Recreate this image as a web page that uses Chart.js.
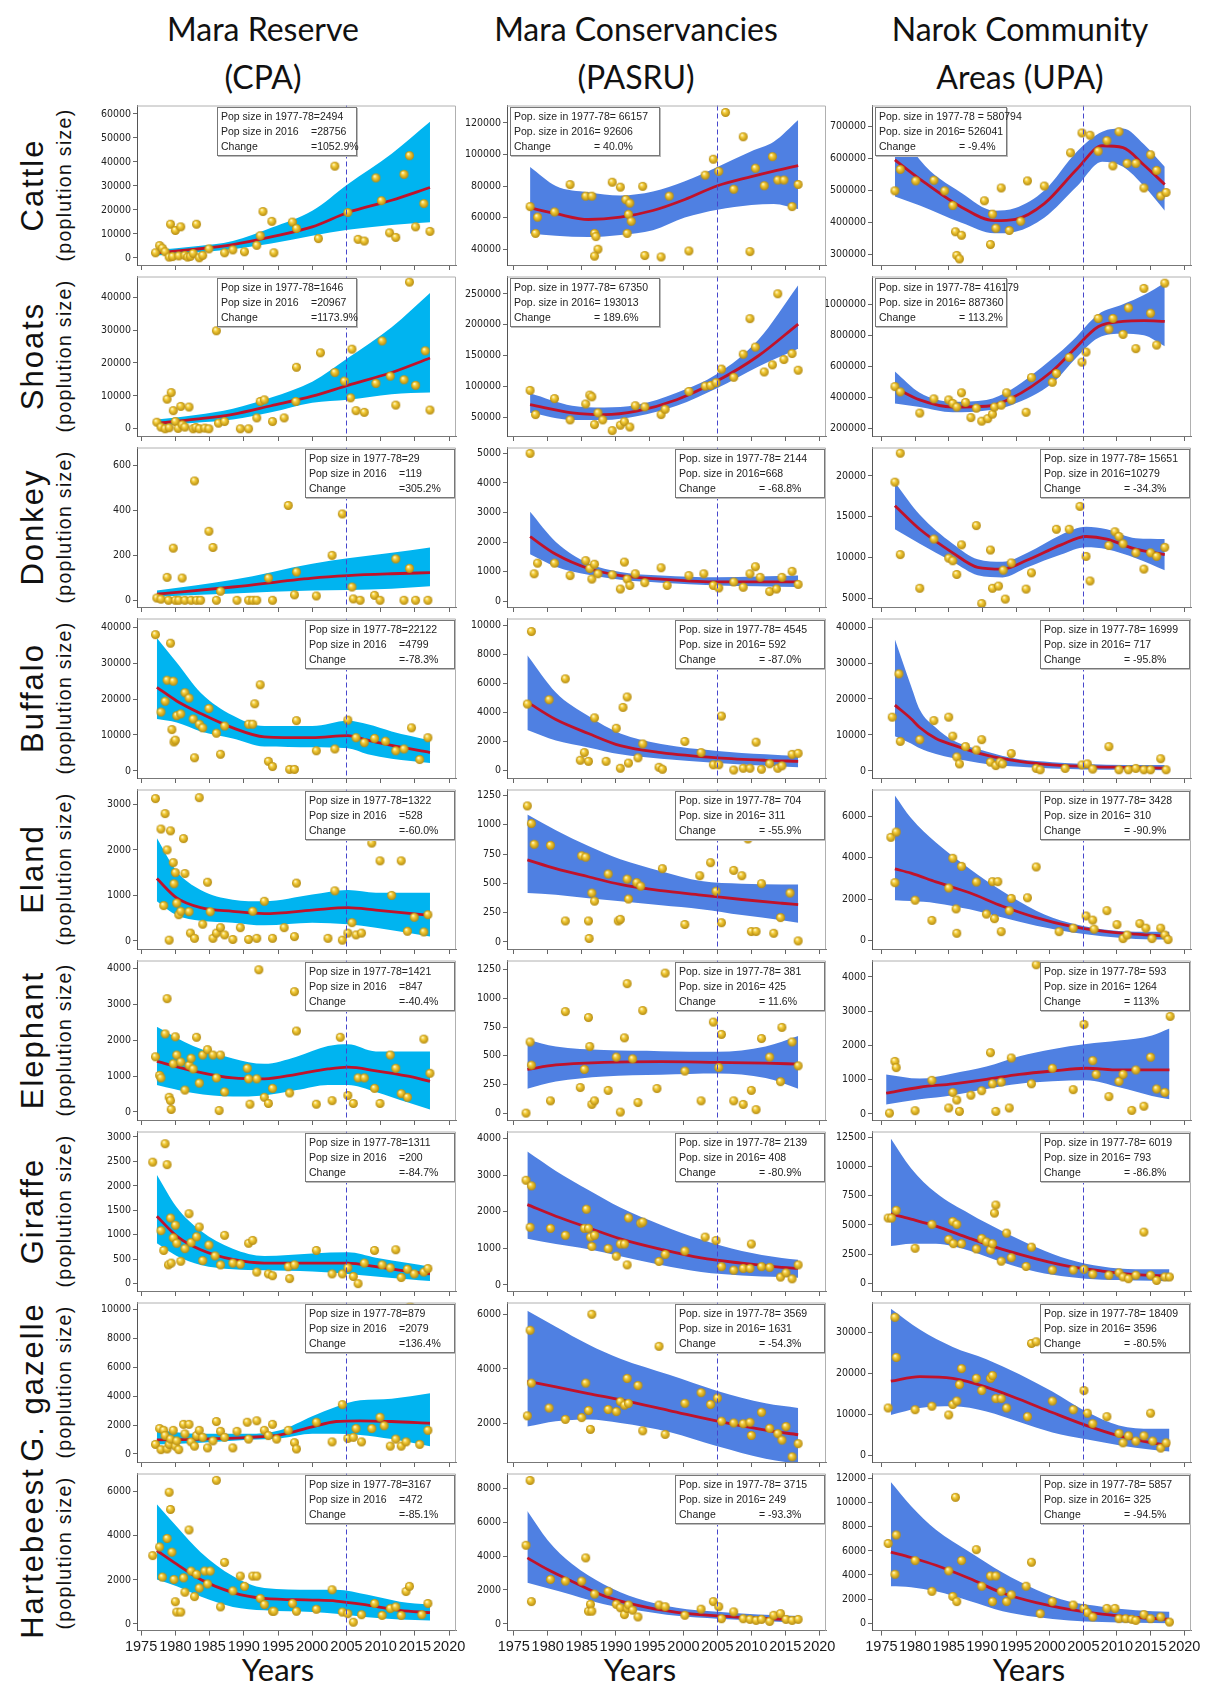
<!DOCTYPE html>
<html>
<head>
<meta charset="utf-8">
<script src="https://cdn.jsdelivr.net/npm/chart.js@4.4.1/dist/chart.umd.min.js"></script>
<style>
  body { margin: 0; width: 1206px; height: 1684px; background: #fff; position: relative; overflow: hidden; }
  .title { position: absolute; top: 5px; transform: translateX(-50%); text-align: center; white-space: nowrap;
           font-family: Lato, 'Open Sans', sans-serif; font-size: 32px; line-height: 48px; color: #111; }
  .years { position: absolute; top: 1650px; transform: translateX(-50%); font-family: Lato, sans-serif; font-size: 31px; color: #111; }
  .rl { position: absolute; white-space: nowrap; transform: translate(-50%, -50%) rotate(-90deg);
        font-family: 'Liberation Sans', Arial, sans-serif; color: #111; }
  .rl.main { font-size: 31px; letter-spacing: 2px; }
  .rl.sub { font-size: 19.5px; letter-spacing: 1.3px; }
  .panel { position: absolute; }
  .panel canvas { position: absolute; left: 0; top: 0; }
  .note { position: absolute; box-sizing: border-box; background: #fff; border: 1px solid #777;
          box-shadow: 1px 1px 0 #bbb; padding: 1px 3px; color: #222; white-space: nowrap;
          font-family: 'Liberation Sans', Arial, sans-serif; font-size: 10.5px; line-height: 15px; }
  .note span { display: inline-block; }
</style>
</head>
<body>
<script>
// ---- layout / common ----
const areaTitles = [['Mara Reserve', '(CPA)'], ['Mara Conservancies', '(PASRU)'], ['Narok Community', 'Areas (UPA)']];
const speciesNames = ['Cattle', 'Shoats', 'Donkey', 'Buffalo', 'Eland', 'Elephant', 'Giraffe', 'G. gazelle', 'Hartebeest'];
const yearTicks = [1975, 1980, 1985, 1990, 1995, 2000, 2005, 2010, 2015, 2020];
const refYear = 2005;

// ---- Cattle ----
const cattleCpaPts = [[1977.1,2100],[1977.7,5100],[1978.1,4000],[1978.5,2500],[1979.1,300],[1979.3,14000],[1979.6,500],[1980.0,11400],[1980.5,800],[1980.8,12900],[1981.4,1000],[1981.8,300],[1982.2,600],[1982.6,1800],[1983.1,14000],[1983.5,0],[1984.0,1000],[1984.9,3700],[1987.2,2100],[1988.4,3300],[1990.1,2500],[1991.9,5200],[1992.4,9200],[1992.8,19300],[1994.1,15200],[1994.4,2100],[1997.1,14900],[1997.7,12200],[2000.9,8000],[2003.3,38200],[2005.2,18900],[2006.7,7700],[2007.6,7000],[2009.3,33300],[2010.1,23800],[2011.3,10400],[2012.2,8500],[2013.4,34800],[2014.2,42600],[2015.1,12900],[2016.3,22600],[2017.2,11000]];
const cattleCpaFit = [[1977.3,1000,2100,3300],[1983,2200,3600,4800],[1988.4,3600,5500,7000],[1994,6000,8700,12500],[2000,9200,12900,19600],[2005.2,11700,18900,30700],[2011.6,13700,24000,43400],[2017.2,14800,29300,56700]];
const cattleCpaTicks = [0,10000,20000,30000,40000,50000,60000];
const cattleCpaNote = ['Pop size in 1977-78=2494', ['Pop size in 2016', '=28756'], ['Change', '=1052.9%']];

const cattlePasPts = [[1977.4,67000],[1978.5,60300],[1978.2,50000],[1981,63600],[1983.3,80900],[1985.6,73600],[1986.5,73600],[1986.9,50000],[1987.1,48000],[1987.4,40000],[1986.9,35600],[1989.5,82400],[1990.7,79300],[1991.5,71400],[1991.9,62100],[1992.1,69200],[1992.3,57700],[1991.7,50000],[1994.3,36000],[1994,79800],[1996.7,35100],[1997.9,73600],[2000.8,38900],[2003.2,86900],[2004.4,97000],[2005.2,89300],[2006.2,126600],[2007.4,78000],[2008.8,111200],[2009.8,38500],[2010.6,91300],[2011.9,80200],[2013.1,98600],[2013.9,83800],[2014.8,83800],[2016,67000],[2016.9,81000]];
const cattlePasFit = [[1977.4,50000,66100,92000],[1981.2,48500,62500,80000],[1986,47700,58800,76000],[1990.7,49000,60300,74000],[1995.5,52000,64500,76500],[2000.2,60000,71500,83000],[2005,65000,80200,92000],[2010,68000,86000,102000],[2013.3,68700,89500,108000],[2016.9,65400,93000,121800]];
const cattlePasTicks = [40000,60000,80000,100000,120000];
const cattlePasNote = ['Pop. size in 1977-78= 66157', 'Pop. size in 2016= 92606', ['Change', '= 40.0%']];

const cattleUpaPts = [[1977,499000],[1977.8,566000],[1980.1,530000],[1982.8,532000],[1984.4,499000],[1985.6,453000],[1986,371000],[1986.9,360000],[1986.2,297000],[1986.6,286000],[1988.5,634000],[1989.9,643000],[1991.2,331000],[1990.3,468000],[1991.5,426000],[1992,382000],[1992.8,508000],[1994,375000],[1995.7,404000],[1996.7,530000],[1999.2,514000],[2003.1,618000],[2004.8,680000],[2006,673000],[2007.2,623000],[2008.5,656000],[2009.4,577000],[2010.3,684000],[2011.5,585000],[2012.8,585000],[2014,508000],[2015,612000],[2015.9,563000],[2016.5,483000],[2017.3,494000]];
const cattleUpaFit = [[1977,481000,596000,727000],[1980.7,453000,536000,596000],[1986.9,399000,448000,492000],[1991.8,366000,406000,437000],[1994.9,371000,410000,445000],[1999.2,415000,459000,500000],[2004.1,514000,568000,623000],[2007.8,590000,640000,684000],[2010.9,574000,634000,694000],[2014,514000,580000,645000],[2017.1,437000,519000,574000]];
const cattleUpaTicks = [300000,400000,500000,600000,700000];
const cattleUpaNote = ['Pop. size in 1977-78 = 580794', ['Pop. size in 2016', '= 526041'], ['Change', '= -9.4%']];

// ---- Shoats ----
const shoatsCpaPts = [[1977.3,2000],[1977.9,500],[1978.5,0],[1978.8,9000],[1979.1,300],[1979.4,11000],[1979.7,5500],[1980,2200],[1980.4,100],[1980.8,6800],[1981,1200],[1981.4,500],[1982,6600],[1982.6,0],[1983,400],[1983.5,0],[1984.3,200],[1984.9,0],[1986,29800],[1986.3,1700],[1987.2,2200],[1989.5,0],[1990.7,0],[1991.9,3300],[1992.4,8300],[1993,8800],[1994.2,2200],[1995.9,3300],[1997.7,18700],[1997.6,8300],[2001.2,23100],[2003.3,17100],[2004.7,14500],[2005.8,24200],[2005.6,9400],[2006.4,5500],[2007.6,5000],[2009.3,13800],[2010.2,26700],[2011.4,16000],[2012.2,7200],[2013.4,14900],[2014.2,44600],[2015.1,13200],[2016.5,23700],[2017.2,5700]];
const shoatsCpaFit = [[1977.3,900,1650,2800],[1983,1800,2900,4200],[1988.4,2800,4400,6100],[1994,5000,7000,9500],[2000,7900,9900,14300],[2005.2,8800,13200,21500],[2011.6,10500,17100,30900],[2017.2,11000,21500,41300]];
const shoatsCpaTicks = [0,10000,20000,30000,40000];
const shoatsCpaNote = ['Pop size in 1977-78=1646', ['Pop size in 2016', '=20967'], ['Change', '=1173.9%']];

const shoatsPasPts = [[1977.4,93700],[1978.2,54600],[1981,80500],[1983.3,46000],[1985.6,71800],[1986.2,86200],[1986.5,83300],[1986.9,38500],[1987.4,57500],[1988.1,46000],[1989.5,28700],[1990.7,37400],[1991.3,43100],[1992.1,34500],[1992.9,69000],[1994.3,67200],[1996.7,54600],[1997.3,63200],[2000.8,92000],[2003.2,100600],[2004,101700],[2004.8,106300],[2005.6,128200],[2007.4,115000],[2008.8,152300],[2009.8,209800],[2010.6,163800],[2011.9,123600],[2013.1,135100],[2013.9,250000],[2014.8,143700],[2016,153400],[2016.9,126400]];
const shoatsPasFit = [[1977.4,57500,70700,89100],[1983.6,46000,57500,69000],[1988.3,46000,54600,66100],[1993.1,52000,60300,70000],[1999,69000,78700,90000],[2005,97700,109200,120700],[2011,132200,149400,175300],[2016.9,161000,201100,264000]];
const shoatsPasTicks = [50000,100000,150000,200000,250000];
const shoatsPasNote = ['Pop. size in 1977-78= 67350', 'Pop. size in 2016= 193013', ['Change', '= 189.6%']];

const shoatsUpaPts = [[1977,469000],[1977.8,435000],[1980.7,298000],[1982.8,390000],[1985,383000],[1985.6,360000],[1986.2,337000],[1986.9,429000],[1987.5,367000],[1988.3,269000],[1989.1,330000],[1989.9,246000],[1990.8,262000],[1991.5,291000],[1991.8,337000],[1992.8,349000],[1993.6,429000],[1994.3,383000],[1996.5,303000],[1997.3,527000],[2000.4,497000],[2001,554000],[2002.9,657000],[2004.8,627000],[2005.4,692000],[2007.2,909000],[2008.8,840000],[2009.4,909000],[2010.9,806000],[2011.7,977000],[2012.8,714000],[2014,1103000],[2015,943000],[2015.9,737000],[2017.1,1137000]];
const shoatsUpaFit = [[1977,360000,463000,566000],[1980.7,337000,383000,429000],[1985.6,303000,337000,371000],[1990.6,314000,342000,383000],[1994.3,349000,394000,451000],[2000.4,490000,570000,650000],[2003.5,634000,703000,770000],[2007.2,783000,855000,935000],[2010.9,810000,890000,1000000],[2014,800000,895000,1060000],[2017.1,730000,890000,1140000]];
const shoatsUpaTicks = [200000,400000,600000,800000,1000000];
const shoatsUpaNote = ['Pop. size in 1977-78= 416179', 'Pop. size in 2016= 887360', ['Change', '= 113.2%']];

// ---- Donkey ----
const donkeyCpaPts = [[1977.3,10],[1977.9,5],[1978.8,102],[1979,0],[1979.7,232],[1980,0],[1980.5,0],[1981,99],[1981.4,0],[1982.3,0],[1982.8,531],[1983.1,0],[1983.7,0],[1984.9,307],[1985.5,235],[1986,0],[1986.6,40],[1989,0],[1990.7,0],[1991.3,0],[1991.9,0],[1993.6,99],[1994.2,0],[1996.5,422],[1997.4,24],[1997.7,126],[2000.6,19],[2002.9,200],[2004.4,384],[2005.8,59],[2006,6],[2007,0],[2009.1,22],[2009.9,0],[2012.2,184],[2013.4,0],[2014.2,142],[2015.1,0],[2016.9,0]];
const donkeyCpaFit = [[1977.3,16,27,43],[1988.4,30,59,91],[2000,43,99,163],[2005.2,46,110,187],[2011.6,51,118,211],[2017.2,62,123,235]];
const donkeyCpaTicks = [0,200,400,600];
const donkeyCpaNote = ['Pop size in 1977-78=29', ['Pop size in 2016', '=119'], ['Change', '=305.2%']];

const donkeyPasPts = [[1977.4,5000],[1978,924],[1978.5,1284],[1981,1284],[1983.3,864],[1985.6,1368],[1986.2,1104],[1986.5,744],[1986.9,1248],[1987.4,924],[1989.5,888],[1990.7,408],[1991.3,1320],[1991.7,744],[1992.1,528],[1992.9,924],[1994.3,624],[1996.7,1128],[1997.6,528],[2000.8,864],[2003,924],[2004.4,528],[2005.2,444],[2007.4,648],[2008.8,468],[2009.8,924],[2010.6,1164],[2011.3,804],[2012.7,324],[2013.7,408],[2014.5,804],[2016,1008],[2016.9,564]];
const donkeyPasFit = [[1977.4,1584,2180,3024],[1981.2,1164,1584,2004],[1986,888,1104,1284],[1990.7,720,864,984],[1996.7,624,744,864],[2005,528,648,804],[2016.9,480,648,864]];
const donkeyPasTicks = [0,1000,2000,3000,4000,5000];
const donkeyPasNote = ['Pop. size in 1977-78= 2144', 'Pop. size in 2016=668', ['Change', '= -68.8%']];

const donkeyUpaPts = [[1977,19240],[1977.8,22800],[1977.8,10340],[1980.7,6200],[1982.8,12250],[1985,9900],[1985.6,9580],[1986.2,7900],[1986.9,11540],[1989.1,13900],[1989.9,4330],[1991.2,10900],[1991.5,6200],[1992.4,6470],[1993.4,4870],[1994.3,9320],[1993.1,8430],[1996.5,6100],[1997.3,8100],[2001,13450],[2002.9,13450],[2004.5,16260],[2005.4,10120],[2006,7100],[2007.2,17900],[2008.8,11450],[2009.7,13140],[2010.3,12565],[2010.9,11675],[2012.8,10560],[2014,8560],[2015,10560],[2015.9,10120],[2017.1,11230]];
const donkeyUpaFit = [[1977,13450,16350,19240],[1980.7,11675,13450,15235],[1985.6,9450,10560,11675],[1989.3,7800,8780,9760],[1993,7540,8560,9450],[1996.7,8780,9670,10560],[2001.7,10340,11540,12790],[2005.4,11230,12565,13770],[2008.5,11000,12250,13450],[2012.8,9900,11000,12340],[2017.1,8430,10340,12250]];
const donkeyUpaTicks = [5000,10000,15000,20000];
const donkeyUpaNote = ['Pop. size in 1977-78= 15651', 'Pop. size in 2016=10279', ['Change', '= -34.3%']];

// ---- Buffalo ----
const buffaloCpaPts = [[1977.1,38000],[1977.9,16400],[1978.5,19400],[1978.8,25300],[1979.3,35600],[1979.5,11500],[1979.7,25000],[1979.8,8060],[1980,8550],[1980.2,15400],[1980.8,15900],[1981.4,21800],[1982,20300],[1982.6,14450],[1982.8,3640],[1983.5,13000],[1984,12000],[1984.9,17400],[1986,10500],[1986.6,4620],[1987.2,12500],[1990.7,13000],[1991.3,13000],[1991.6,18700],[1992.4,24000],[1993.6,2650],[1994.2,1200],[1996.7,400],[1997.4,400],[1997.7,14000],[2000.6,5600],[2003.3,6100],[2005.2,14150],[2006.4,9240],[2007.6,7860],[2009.1,9040],[2010.7,8260],[2012.2,5600],[2013.4,6100],[2014.5,12000],[2015.7,3150],[2016.9,9240]];
const buffaloCpaFit = [[1977.3,14450,23300,37060],[1980.2,13470,19500,30200],[1983.7,11000,16000,21800],[1988.4,9040,12000,15430],[1993,6780,9500,12480],[2000,6590,9240,12480],[2005.2,6290,9830,13960],[2008.1,4620,8550,12980],[2011.6,3340,7080,11000],[2017.2,2160,5110,8550]];
const buffaloCpaTicks = [0,10000,20000,30000,40000];
const buffaloCpaNote = ['Pop size in 1977-78=22122', ['Pop size in 2016', '=4799'], ['Change', '=-78.3%']];

const buffaloPasPts = [[1977,4600],[1977.6,9600],[1980.2,4900],[1982.6,6340],[1984.8,720],[1985.4,1250],[1986,650],[1986.9,3650],[1988.6,650],[1990.1,2930],[1991.1,4370],[1991.7,5090],[1990.7,170],[1991.9,530],[1993.3,890],[1994,1850],[1996.4,240],[1996.9,100],[2000.2,2020],[2002.6,1250],[2004.4,410],[2005.2,410],[2005.6,3770],[2007.4,50],[2008.8,170],[2009.8,170],[2010.7,1970],[2011.5,100],[2012.7,480],[2013.9,170],[2014.5,340],[2016,1130],[2016.9,1200]];
const buffaloPasFit = [[1977,2810,4730,7970],[1981.2,2090,3530,5400],[1986,1610,2570,3770],[1990.7,1130,1730,2570],[1996.7,820,1250,1850],[2005,530,890,1370],[2012.1,340,720,1130],[2016.9,240,650,1010]];
const buffaloPasTicks = [0,2000,4000,6000,8000,10000];
const buffaloPasNote = ['Pop. size in 1977-78= 4545', 'Pop. size in 2016= 592', ['Change', '= -87.0%']];

const buffaloUpaPts = [[1976.6,14940],[1977.6,27000],[1977.8,8190],[1980.7,8680],[1982.8,13980],[1985,14940],[1985.6,9640],[1986.2,3860],[1986.6,1930],[1987.5,6750],[1989.1,5780],[1989.9,8680],[1991.2,2410],[1992,1450],[1992.6,2410],[1993,1930],[1994.3,4820],[1998,675],[1998.6,290],[2002.3,675],[2004.8,1640],[2005.6,1930],[2006.4,480],[2008.8,6750],[2010.3,290],[2011.7,290],[2012.8,675],[2014,290],[2015,290],[2016.5,3370],[2017.3,290]];
const buffaloUpaFit = [[1977,9640,18300,36600],[1979.4,7600,14500,23600],[1980.7,6270,12050,17000],[1983.1,4700,9000,12000],[1985.6,3570,7230,8500],[1990.6,1930,4340,5400],[1995.5,1160,2600,3200],[2000.4,675,1640,2410],[2005.4,390,1160,1930],[2011.5,290,960,1640],[2017.1,190,770,1640]];
const buffaloUpaTicks = [0,10000,20000,30000,40000];
const buffaloUpaNote = ['Pop. size in 1977-78= 16999', 'Pop. size in 2016= 717', ['Change', '= -95.8%']];

// ---- Eland ----
const elandCpaPts = [[1977.1,3130],[1977.9,2460],[1978.3,775],[1978.5,2800],[1978.8,2000],[1979.1,15],[1979.3,2420],[1979.7,1720],[1979.8,1255],[1980,1500],[1980.2,830],[1980.5,575],[1980.8,650],[1981.2,2250],[1981.4,1481],[1982,640],[1982.2,170],[1982.8,55],[1983.5,3150],[1984,365],[1984.7,1290],[1985.1,640],[1985.5,55],[1986,170],[1986.6,290],[1987.2,130],[1988.4,30],[1989.5,290],[1990.7,30],[1991.3,650],[1991.9,55],[1993,870],[1994.2,55],[1995.9,290],[1997.4,93],[1997.7,1270],[2002.3,55],[2003.3,1100],[2004.4,15],[2005.2,170],[2005.8,400],[2006.4,130],[2007.2,170],[2008.7,2150],[2009.9,1760],[2011.6,1000],[2013,1760],[2013.9,210],[2014.9,520],[2016.3,195],[2016.9,575]];
const elandCpaFit = [[1977.3,870,1370,2260],[1980.2,560,945,1530],[1983.7,440,730,1120],[1988.4,400,650,905],[1993,340,600,870],[2000,400,675,1020],[2005.2,365,730,1120],[2009.3,285,675,1060],[2017.2,93,560,1060]];
const elandCpaTicks = [0,1000,2000,3000];
const elandCpaNote = ['Pop size in 1977-78=1322', ['Pop size in 2016', '=528'], ['Change', '=-60.0%']];

const elandPasPts = [[1977,1160],[1977.6,1010],[1978,833],[1980.4,824],[1982.6,179],[1985,735],[1985.6,723],[1986,179],[1986.1,30],[1986.5,417],[1986.9,348],[1988.9,580],[1990.4,179],[1990.7,193],[1991.7,536],[1991.9,366],[1993.1,506],[1993.7,476],[1996.9,625],[2000.2,149],[2002.4,565],[2004,676],[2004.8,432],[2005.6,164],[2007.4,610],[2008.6,565],[2009.5,878],[2010,89],[2010.7,89],[2011.5,497],[2013.3,74],[2014.3,208],[2015.7,417],[2016.9,9]];
const elandPasFit = [[1977,417,700,1086],[1981.2,402,625,952],[1986,372,556,818],[1990.7,348,490,705],[1996.7,312,437,604],[2002.6,280,400,520],[2008.6,230,362,497],[2014.5,185,330,491],[2016.9,164,318,491]];
const elandPasTicks = [0,250,500,750,1000,1250];
const elandPasNote = ['Pop. size in 1977-78= 704', 'Pop. size in 2016= 311', ['Change', '= -55.9%']];

const elandUpaPts = [[1976.4,4985],[1977.2,5240],[1977,2790],[1980,1940],[1982.5,965],[1985,2535],[1986.2,340],[1986.1,1521],[1985.6,3970],[1986.9,3580],[1989.1,2820],[1990.6,1270],[1991.5,2840],[1992.3,2840],[1991.8,1050],[1992.8,420],[1994,1435],[1994.3,2030],[1996.7,2060],[1998,3550],[2001.4,420],[2003.5,590],[2005.4,1180],[2006.4,980],[2006.6,540],[2008.5,1435],[2010,760],[2010.9,85],[2011.5,255],[2013.4,810],[2014.3,590],[2015.2,85],[2016.5,590],[2017.1,255],[2017.6,34]];
const elandUpaFit = [[1977,1940,3460,7010],[1979.4,1900,3250,5915],[1983.1,1800,2830,4730],[1988.1,1500,2300,3460],[1993,1100,1650,2370],[1998,700,1100,1435],[2002.9,400,700,845],[2007.8,200,450,540],[2012.8,70,300,420],[2017.8,34,200,420]];
const elandUpaTicks = [0,2000,4000,6000];
const elandUpaNote = ['Pop. size in 1977-78= 3428', 'Pop. size in 2016= 310', ['Change', '= -90.9%']];

// ---- Elephant ----
const elephantCpaPts = [[1977.1,1540],[1977.7,1020],[1977.9,950],[1978.5,2180],[1978.8,3165],[1979.1,410],[1979.3,315],[1979.4,70],[1979.7,1345],[1980,2100],[1980.2,1590],[1980.8,1395],[1981.4,610],[1982,1300],[1982.3,1500],[1982.6,1200],[1983.1,2085],[1983.5,805],[1984,1590],[1984.7,1740],[1985.5,1590],[1986,950],[1986.4,40],[1986.6,1590],[1987.2,560],[1990.5,1220],[1990.7,925],[1990.9,215],[1991.9,925],[1992.2,3970],[1993,410],[1993.6,236],[1994.2,660],[1996.7,530],[1997.4,3360],[1997.7,2260],[2000.6,215],[2002.9,315],[2004.1,2085],[2005.2,460],[2006,236],[2006.7,950],[2007.6,950],[2009.1,660],[2009.9,236],[2011.4,1590],[2012.2,1220],[2013,510],[2013.9,410],[2016.3,2035],[2017.2,1080]];
const elephantCpaFit = [[1977.3,755,1415,2380],[1982.6,530,1150,1840],[1988.4,430,950,1495],[1993,460,925,1345],[1997.7,610,1050,1545],[2002.3,755,1200,1840],[2005.2,755,1250,1890],[2009.3,560,1150,1690],[2014,265,1000,1690],[2017.2,70,855,1690]];
const elephantCpaTicks = [0,1000,2000,3000,4000];
const elephantCpaNote = ['Pop size in 1977-78=1421', ['Pop size in 2016', '=847'], ['Change', '=-40.4%']];

const elephantPasPts = [[1976.8,0],[1977.4,620],[1977.6,418],[1980.4,107],[1982.6,885],[1984.8,223],[1985.4,381],[1986,833],[1986.2,580],[1986.5,76],[1986.9,107],[1988.9,198],[1990.1,488],[1990.7,9],[1991.3,656],[1991.7,1128],[1992.5,473],[1993.3,92],[1994,894],[1996.1,214],[1997.3,1220],[2000.2,366],[2002.6,107],[2004.4,793],[2005.2,397],[2005.6,686],[2007.4,107],[2008.8,76],[2010,198],[2010.7,30],[2011.5,650],[2012.7,488],[2014.3,274],[2014.5,747],[2016,620],[2016.9,412]];
const elephantPasFit = [[1977,213,381,640],[1981.2,275,420,580],[1988.3,320,442,549],[1996.7,335,448,540],[2005,345,442,534],[2012.1,305,436,580],[2016.9,213,427,671]];
const elephantPasTicks = [0,250,500,750,1000,1250];
const elephantPasNote = ['Pop. size in 1977-78= 381', 'Pop. size in 2016= 425', ['Change', '= 11.6%']];

const elephantUpaPts = [[1976.2,20],[1977,1530],[1977.2,1350],[1980,90],[1982.5,978],[1985,171],[1985.6,625],[1986.2,403],[1986.6,70],[1988.3,544],[1989.9,675],[1991.2,1785],[1991.5,877],[1992,70],[1992.8,927],[1994.3,1630],[1994,171],[1997.3,877],[1998,4350],[2000.4,1330],[2003.5,705],[2005.1,2610],[2006.4,1552],[2006.9,1150],[2008.8,504],[2010.3,948],[2010.9,1150],[2012.2,100],[2012.8,1280],[2014,222],[2015,1653],[2015.9,726],[2017.1,625],[2017.9,2843]];
const elephantUpaFit = [[1975.7,272,605,1150],[1980.7,423,776,1028],[1985.6,544,877,1180],[1990.6,726,1008,1380],[1995.5,877,1150,1683],[2000.4,948,1250,1885],[2005.4,978,1330,2036],[2010.3,776,1280,2137],[2015.2,524,1280,2288],[2017.8,423,1280,2490]];
const elephantUpaTicks = [0,1000,2000,3000,4000];
const elephantUpaNote = ['Pop. size in 1977-78= 593', 'Pop. size in 2016= 1264', ['Change', '= 113%']];

// ---- Giraffe ----
const giraffeCpaPts = [[1976.7,2484],[1977.9,1083],[1978.3,678],[1978.5,2860],[1978.8,2432],[1979,383],[1979.3,1341],[1979.4,420],[1979.7,936],[1980,1194],[1980.2,825],[1980.8,457],[1981.4,715],[1982,1430],[1982.3,840],[1983.1,958],[1983.5,1157],[1984,472],[1984.9,789],[1985.8,567],[1986.6,383],[1987.2,988],[1988.4,420],[1989.5,398],[1990.7,825],[1991.3,884],[1991.9,236],[1993.6,199],[1994.2,162],[1996.5,346],[1996.7,103],[1997.4,383],[2000.6,678],[2002.9,199],[2004.4,199],[2005.2,324],[2006,147],[2006.7,0],[2007.6,420],[2009.1,678],[2010.2,383],[2011.4,324],[2012.2,693],[2013,125],[2013.9,295],[2014.9,199],[2016.3,236],[2016.9,309]];
const giraffeCpaFit = [[1977.3,825,1378,2226],[1980.2,567,973,1562],[1983.7,383,693,1083],[1988.4,295,494,715],[1993,273,420,567],[2000,250,420,619],[2005.2,199,420,641],[2009.3,147,346,530],[2014,88,250,420],[2017.2,52,199,346]];
const giraffeCpaTicks = [0,500,1000,1500,2000,2500,3000];
const giraffeCpaNote = ['Pop size in 1977-78=1311', ['Pop size in 2016', '=200'], ['Change', '=-84.7%']];

const giraffePasPts = [[1976.8,2856],[1977.6,2704],[1977.4,1571],[1980.4,1542],[1982.6,1352],[1985.4,1542],[1985.7,2066],[1986,1542],[1986.3,1304],[1986.5,1047],[1986.9,1352],[1988.9,990],[1990.1,781],[1990.7,1114],[1991.3,1114],[1991.7,543],[1991.9,1828],[1993.7,1685],[1994,1714],[1996.4,638],[1997.3,828],[2000.2,923],[2003.2,1304],[2004.8,1209],[2005.6,495],[2007.4,400],[2008.8,447],[2009.8,447],[2010,1114],[2011.5,495],[2012.7,476],[2014.3,210],[2015.1,324],[2016,162],[2016.9,543]];
const giraffePasFit = [[1977,1257,2190,3640],[1981.2,1114,1875,3113],[1986,971,1560,2590],[1990.7,781,1257,2113],[1996.7,543,970,1637],[2002.6,352,733,1238],[2008.6,257,590,923],[2014.5,210,476,733],[2016.9,190,447,685]];
const giraffePasTicks = [0,1000,2000,3000,4000];
const giraffePasNote = ['Pop. size in 1977-78= 2139', 'Pop. size in 2016= 408', ['Change', '= -80.9%']];

const giraffeUpaPts = [[1976,5590],[1976.5,5590],[1977.2,6250],[1980,3000],[1982.5,5050],[1985,3756],[1985.6,5290],[1986.2,5050],[1985.7,3395],[1986.9,3395],[1989.1,2945],[1989.9,3846],[1990.6,3545],[1991.2,2855],[1991.5,3395],[1991.8,6010],[1992,6700],[1992.8,1893],[1993.6,4297],[1994.3,2194],[1996.5,1442],[1997.3,3095],[2000.4,1142],[2003.5,1142],[2005.1,1202],[2006.4,781],[2008.8,691],[2010.3,901],[2010.9,541],[2011.7,391],[2012.8,691],[2014,4387],[2015,691],[2015.9,240],[2017.1,541],[2017.8,541]];
const giraffeUpaFit = [[1976.4,3185,5950,12410],[1979.4,3395,5500,9860],[1983.1,3395,4900,7750],[1988.1,2795,3850,5950],[1993,1800,2900,4450],[1998,990,2100,3095],[2002.9,540,1450,2045],[2007.8,300,1050,1440],[2012.8,240,750,1200],[2017.8,180,630,1200]];
const giraffeUpaTicks = [0,2500,5000,7500,10000,12500];
const giraffeUpaNote = ['Pop. size in 1977-78= 6019', 'Pop. size in 2016= 793', ['Change', '= -86.8%']];

// ---- G. gazelle ----
const gazelleCpaPts = [[1977.1,660],[1977.7,1757],[1977.9,293],[1978.3,1635],[1978.5,1269],[1978.8,342],[1979.1,660],[1979.3,1025],[1979.7,1635],[1980,537],[1980.2,903],[1980.5,293],[1981.2,2050],[1981.4,1390],[1982,2050],[1982.3,830],[1982.8,537],[1983.1,1269],[1983.5,1635],[1984,1147],[1984.7,415],[1985.5,903],[1986,2245],[1986.6,1562],[1987.2,1147],[1988.4,415],[1989,1562],[1990.5,2196],[1990.7,1025],[1991.9,2294],[1993,1635],[1993.6,1269],[1994.2,2050],[1994.8,1025],[1996.5,1635],[1997.4,780],[1997.7,342],[2000.6,2196],[2002.9,830],[2004.4,3416],[2005.2,1074],[2006,1147],[2006.4,1757],[2007.2,830],[2008.7,1757],[2009.9,2538],[2010.5,1952],[2011.4,537],[2012.2,1025],[2013,537],[2013.7,830],[2014.3,10200],[2015.7,660],[2016.9,1635]];
const gazelleCpaFit = [[1977.3,660,976,1635],[1983.7,780,1025,1390],[1990.7,976,1147,1390],[1995.3,1074,1318,1635],[2000,1390,1880,2610],[2003.5,1390,2245,3270],[2007,1318,2294,3710],[2011.6,1025,2245,3830],[2017.2,537,2123,4197]];
const gazelleCpaTicks = [0,2000,4000,6000,8000,10000];
const gazelleCpaNote = ['Pop size in 1977-78=879', ['Pop size in 2016', '=2079'], ['Change', '=136.4%']];

const gazellePasPts = [[1977,2287],[1977.4,5414],[1977.6,3485],[1980.2,2573],[1982.6,2156],[1985,2222],[1985.6,3485],[1986,2482],[1986.3,1792],[1986.5,6000],[1988.9,2521],[1990.1,2443],[1990.7,2808],[1991.3,2678],[1991.7,3655],[1991.9,2743],[1993.3,3394],[1994,1739],[1996.4,4827],[1997.3,1609],[2000.2,2743],[2002.6,3134],[2004,2704],[2005,2938],[2005.6,2091],[2007.4,2026],[2008.8,2000],[2009.8,2052],[2010,1570],[2011.5,2417],[2012.7,1830],[2013.9,1635],[2014.5,1400],[2015.1,1896],[2016,788],[2016.9,1270]];
const gazellePasFit = [[1977,1896,3550,6130],[1981.2,2091,3350,5544],[1986,2156,3100,4893],[1990.7,2026,2873,4371],[1997.9,1700,2482,3785],[2005,1179,2091,3199],[2012.1,723,1765,2743],[2016.9,528,1596,2573]];
const gazellePasTicks = [2000,4000,6000];
const gazellePasNote = ['Pop. size in 1977-78= 3569', 'Pop. size in 2016= 1631', ['Change', '= -54.3%']];

const gazelleUpaPts = [[1976,11510],[1977,33670],[1977.2,23870],[1980,11080],[1982.5,11935],[1985,9800],[1985.6,12360],[1986.2,13210],[1986.9,21140],[1986.6,17220],[1989.1,18755],[1989.9,15770],[1991.2,18755],[1991.5,19440],[1992,13810],[1992.8,13810],[1993.6,11510],[1996.7,9380],[1997.3,27280],[1998,27700],[2000.4,13210],[2003.5,11080],[2005.1,15770],[2005.6,10230],[2006.4,7670],[2008.5,9380],[2010.3,5290],[2010.9,2980],[2011.7,4690],[2012.8,3410],[2014,4690],[2015,10230],[2015.3,3410],[2016.5,1700],[2017.3,2980]];
const gazelleUpaFit = [[1976.4,9800,18070,35800],[1980.7,11510,19180,30690],[1985.6,11935,18755,26430],[1990.6,10660,16625,23440],[1995.5,8100,13640,19780],[2000.4,5540,10400,15520],[2005.4,3840,7250,10660],[2010.3,2390,4690,7250],[2015.2,1280,2980,6400],[2017.8,850,2390,6400]];
const gazelleUpaTicks = [0,10000,20000,30000];
const gazelleUpaNote = ['Pop. size in 1977-78= 18409', 'Pop. size in 2016= 3596', ['Change', '= -80.5%']];

// ---- Hartebeest ----
const hartCpaPts = [[1976.7,3100],[1977.7,3490],[1978.1,2125],[1978.8,3875],[1979.1,5970],[1979.3,5190],[1979.5,3255],[1979.8,2015],[1980,1010],[1980.2,540],[1980.8,540],[1981.2,2090],[1981.4,1440],[1982,4260],[1982.3,2400],[1982.8,1240],[1983.1,2250],[1983.5,1630],[1984.3,2400],[1984.7,1815],[1985.1,2400],[1986,6510],[1986.6,775],[1987.2,2790],[1988.4,1500],[1989.5,2170],[1990.1,1705],[1991.3,2170],[1991.9,2170],[1992.4,1160],[1993,880],[1994.2,575],[1994.4,575],[1997.1,930],[1997.7,575],[2000.6,665],[2002.9,1550],[2004.4,540],[2005.2,465],[2006,80],[2007.2,420],[2009.1,930],[2010.2,390],[2011.4,700],[2012.2,775],[2013,390],[2013.7,1470],[2014.2,1705],[2016,420],[2016.9,930]];
const hartCpaFit = [[1977.3,2015,3330,5425],[1980.2,1705,2710,4420],[1983.7,1240,2015,3255],[1988.4,775,1425,2170],[1993,620,1160,1630],[2000,540,1085,1550],[2003.5,465,1040,1550],[2008.1,310,850,1320],[2012.8,200,620,1010],[2017.2,155,510,880]];
const hartCpaTicks = [0,2000,4000,6000];
const hartCpaNote = ['Pop size in 1977-78=3167', ['Pop size in 2016', '=472'], ['Change', '=-85.1%']];

const hartPasPts = [[1976.8,4635],[1977.4,8460],[1977.6,1310],[1980.4,2620],[1982.6,2520],[1985,2520],[1985.6,3890],[1986,745],[1986.3,1150],[1986.5,745],[1986.9,1753],[1988.9,1915],[1990.1,1150],[1990.7,947],[1991.3,544],[1991.7,907],[1991.9,1108],[1992.5,806],[1993.3,403],[1996.4,1108],[1997.3,1008],[2000.2,504],[2002.6,866],[2004.4,1310],[2005.2,1008],[2005.6,302],[2007.4,705],[2008.8,302],[2009.8,262],[2010.7,201],[2011.5,262],[2012.7,141],[2013.3,504],[2014.3,604],[2015.1,262],[2016,201],[2016.9,262]];
const hartPasFit = [[1977,2418,3890,6650],[1980,2100,3200,4935],[1983.6,1700,2500,3525],[1988.3,1150,1650,2320],[1993.1,800,1100,1510],[1999,470,680,947],[2005,300,470,705],[2011,180,330,544],[2016.9,60,242,463]];
const hartPasTicks = [0,2000,4000,6000,8000];
const hartPasNote = ['Pop. size in 1977-78= 3715', 'Pop. size in 2016= 249', ['Change', '= -93.3%']];

const hartUpaPts = [[1976,6610],[1977,4057],[1977.2,7320],[1980,5190],[1982.5,2640],[1985,4340],[1985.6,2213],[1986.2,1787],[1986,10440],[1986.9,5190],[1989.1,6100],[1989.9,3064],[1991.2,3915],[1991.5,1787],[1992,3915],[1992.8,2640],[1993.6,1787],[1994.3,2355],[1996.5,3064],[1997.3,5050],[1998.6,794],[2000.4,1787],[2003.5,1504],[2005.1,1220],[2005.6,880],[2006.4,510],[2008.5,1220],[2009.7,1220],[2010.3,369],[2011.3,369],[2012.2,312],[2012.8,227],[2014,709],[2015,369],[2016.5,510],[2017.8,85]];
const hartUpaFit = [[1976.4,3064,5900,11717],[1979.4,2980,5450,9730],[1983.1,2640,4800,7745],[1988.1,1844,3700,5900],[1993,993,2500,4200],[1998,510,1700,2780],[2002.9,227,1150,1787],[2007.8,85,750,1362],[2012.8,28,480,1078],[2017.8,0,312,936]];
const hartUpaTicks = [0,2000,4000,6000,8000,10000,12000];
const hartUpaNote = ['Pop. size in 1977-78= 5857', 'Pop. size in 2016= 325', ['Change', '= -94.5%']];

// panel list, row by row (CPA, PASRU, UPA)
const panels = [
  { pts: cattleCpaPts, fit: cattleCpaFit, ticks: cattleCpaTicks, min: -3000, max: 63500, note: cattleCpaNote },
  { pts: cattlePasPts, fit: cattlePasFit, ticks: cattlePasTicks, min: 30000, max: 131000, note: cattlePasNote },
  { pts: cattleUpaPts, fit: cattleUpaFit, ticks: cattleUpaTicks, min: 267000, max: 766000, note: cattleUpaNote },
  { pts: shoatsCpaPts, fit: shoatsCpaFit, ticks: shoatsCpaTicks, min: -2200, max: 46300, note: shoatsCpaNote },
  { pts: shoatsPasPts, fit: shoatsPasFit, ticks: shoatsPasTicks, min: 20000, max: 278000, note: shoatsPasNote },
  { pts: shoatsUpaPts, fit: shoatsUpaFit, ticks: shoatsUpaTicks, min: 150000, max: 1180000, note: shoatsUpaNote },
  { pts: donkeyCpaPts, fit: donkeyCpaFit, ticks: donkeyCpaTicks, min: -30, max: 680, note: donkeyCpaNote },
  { pts: donkeyPasPts, fit: donkeyPasFit, ticks: donkeyPasTicks, min: -200, max: 5200, note: donkeyPasNote },
  { pts: donkeyUpaPts, fit: donkeyUpaFit, ticks: donkeyUpaTicks, min: 3900, max: 23500, note: donkeyUpaNote },
  { pts: buffaloCpaPts, fit: buffaloCpaFit, ticks: buffaloCpaTicks, min: -2000, max: 42500, note: buffaloCpaNote },
  { pts: buffaloPasPts, fit: buffaloPasFit, ticks: buffaloPasTicks, min: -500, max: 10500, note: buffaloPasNote },
  { pts: buffaloUpaPts, fit: buffaloUpaFit, ticks: buffaloUpaTicks, min: -2000, max: 42400, note: buffaloUpaNote },
  { pts: elandCpaPts, fit: elandCpaFit, ticks: elandCpaTicks, min: -180, max: 3330, note: elandCpaNote },
  { pts: elandPasPts, fit: elandPasFit, ticks: elandPasTicks, min: -60, max: 1300, note: elandPasNote },
  { pts: elandUpaPts, fit: elandUpaFit, ticks: elandUpaTicks, min: -420, max: 7300, note: elandUpaNote },
  { pts: elephantCpaPts, fit: elephantCpaFit, ticks: elephantCpaTicks, min: -225, max: 4230, note: elephantCpaNote },
  { pts: elephantPasPts, fit: elephantPasFit, ticks: elephantPasTicks, min: -60, max: 1330, note: elephantPasNote },
  { pts: elephantUpaPts, fit: elephantUpaFit, ticks: elephantUpaTicks, min: -180, max: 4475, note: elephantUpaNote },
  { pts: giraffeCpaPts, fit: giraffeCpaFit, ticks: giraffeCpaTicks, min: -150, max: 3110, note: giraffeCpaNote },
  { pts: giraffePasPts, fit: giraffePasFit, ticks: giraffePasTicks, min: -170, max: 4190, note: giraffePasNote },
  { pts: giraffeUpaPts, fit: giraffeUpaFit, ticks: giraffeUpaTicks, min: -660, max: 13000, note: giraffeUpaNote },
  { pts: gazelleCpaPts, fit: gazelleCpaFit, ticks: gazelleCpaTicks, min: -560, max: 10490, note: gazelleCpaNote },
  { pts: gazellePasPts, fit: gazellePasFit, ticks: gazellePasTicks, min: 600, max: 6430, note: gazellePasNote },
  { pts: gazelleUpaPts, fit: gazelleUpaFit, ticks: gazelleUpaTicks, min: -1700, max: 37300, note: gazelleUpaNote },
  { pts: hartCpaPts, fit: hartCpaFit, ticks: hartCpaTicks, min: -300, max: 6820, note: hartCpaNote },
  { pts: hartPasPts, fit: hartPasFit, ticks: hartPasTicks, min: -400, max: 8870, note: hartPasNote },
  { pts: hartUpaPts, fit: hartUpaFit, ticks: hartUpaTicks, min: -620, max: 12420, note: hartUpaNote }
];

// ---- geometry & styles ----
const colPlotLeft = [137, 507, 872];
const titleCenter = [263, 636, 1020];
const yearsCenter = [278, 640, 1029];
const plotW = 319, plotH = 161, axisW = 46, padTop = 4, padRight = 14;
const firstTop = 104, rowPitch = 171;
const xMin = [1974.4, 1974, 1973.6], xMax = 2021;
const bandColor = ['#00b4f0', '#4f80e2', '#4f80e2'];
const trendColor = '#c0122a';
const narrow = "'Liberation Sans Narrow', 'DejaVu Sans Condensed', sans-serif";

function add(html, cls, style) {
  const d = document.createElement('div');
  d.className = cls;
  d.style.cssText = style;
  d.innerHTML = html;
  document.body.appendChild(d);
  return d;
}

// gold ball used as point marker
function makeBall(r) {
  const c = document.createElement('canvas');
  c.width = c.height = 2 * r + 2;
  const g = c.getContext('2d');
  const grad = g.createRadialGradient(r * 0.7 + 1, r * 0.6 + 1, 0.4, r + 1, r + 1, r);
  grad.addColorStop(0, '#fff8c8');
  grad.addColorStop(0.35, '#f4cc38');
  grad.addColorStop(1, '#b48a10');
  g.fillStyle = grad;
  g.beginPath(); g.arc(r + 1, r + 1, r, 0, Math.PI * 2); g.fill();
  return c;
}
const ball = makeBall(4.5);

// dashed 2005 line + light frame
const refLine = {
  id: 'refLine',
  afterDatasetsDraw(chart, args, opts) {
    const { ctx, chartArea: a } = chart;
    const px = Math.round(chart.scales.x.getPixelForValue(opts.year)) + 0.5;
    ctx.save();
    ctx.strokeStyle = '#4646cc'; ctx.lineWidth = 1; ctx.setLineDash([5, 3]);
    ctx.beginPath(); ctx.moveTo(px, a.top); ctx.lineTo(px, a.bottom); ctx.stroke();
    ctx.setLineDash([]);
    ctx.strokeStyle = '#b0b0b0';
    ctx.beginPath(); ctx.moveTo(a.left, a.top + 0.5); ctx.lineTo(a.right - 0.5, a.top + 0.5); ctx.lineTo(a.right - 0.5, a.bottom); ctx.stroke();
    ctx.restore();
  }
};

// titles and labels
areaTitles.forEach((t, c) => add(t.join('<br>'), 'title', `left:${titleCenter[c]}px`));
yearsCenter.forEach(x => add('Years', 'years', `left:${x}px`));
speciesNames.forEach((s, r) => {
  const cy = firstTop + r * rowPitch + plotH / 2;
  add(s, 'rl main', `left:33px;top:${cy}px`);
  add('(poplution size)', 'rl sub', `left:64px;top:${cy}px`);
});

panels.forEach((p, i) => {
  const row = Math.floor(i / 3), col = i % 3;
  const bottomRow = row === speciesNames.length - 1;
  const w = axisW + plotW + padRight;
  const h = padTop + plotH + (bottomRow ? 26 : 5) + 1;
  const wrap = add('', 'panel', `left:${colPlotLeft[col] - axisW}px;top:${firstTop + row * rowPitch - padTop}px;width:${w}px;height:${h}px`);
  const cv = document.createElement('canvas');
  cv.width = w; cv.height = h;
  wrap.appendChild(cv);

  // note box
  let bx, bw;
  if (row < 2 && col === 0) { bx = axisW + 80; bw = 140; }
  else if (row < 2) { bx = axisW + 3; bw = col === 1 ? 150 : 132; }
  else { bw = 150; bx = axisW + plotW - bw - 1; }
  const tab = col === 0 ? 90 : 80;
  const lines = p.note.map(l => Array.isArray(l)
    ? `<div><span style="width:${tab}px">${l[0]}</span>${l[1]}</div>`
    : `<div>${l}</div>`).join('');
  const note = document.createElement('div');
  note.className = 'note';
  note.style.cssText = `left:${bx}px;top:${padTop + 3}px;width:${bw}px`;
  note.innerHTML = lines;
  wrap.appendChild(note);

  const lineSet = (idx, extra) => Object.assign({
    data: p.fit.map(f => ({ x: f[0], y: f[idx] })),
    showLine: true, pointRadius: 0, cubicInterpolationMode: 'monotone'
  }, extra);

  new Chart(cv, {
    type: 'scatter',
    data: {
      datasets: [
        { data: p.pts.map(([x, y]) => ({ x, y })), pointStyle: ball, pointRadius: 4.5, order: 0 },
        lineSet(2, { borderColor: trendColor, borderWidth: 2.8, order: 1 }),
        lineSet(3, { borderColor: 'rgba(0,0,0,0)', borderWidth: 1, backgroundColor: bandColor[col], fill: '+1', order: 2 }),
        lineSet(1, { borderColor: 'rgba(0,0,0,0)', borderWidth: 1, fill: false, order: 3 })
      ]
    },
    options: {
      responsive: false,
      animation: false,
      events: [],
      layout: { padding: { top: padTop, right: padRight, bottom: 1, left: 0 } },
      plugins: { legend: { display: false }, tooltip: { enabled: false }, refLine: { year: refYear } },
      scales: {
        x: {
          type: 'linear', min: xMin[col], max: xMax,
          afterBuildTicks: s => { s.ticks = yearTicks.map(v => ({ value: v })); },
          afterFit: s => { s.paddingLeft = 0; s.paddingRight = 0; },
          grid: { drawOnChartArea: false, drawTicks: true, tickLength: 5, color: '#666' },
          border: { color: '#777' },
          ticks: { display: bottomRow, autoSkip: false, maxRotation: 0, padding: 3, color: '#1a1a1a',
                   font: { family: "'Liberation Sans', Arial, sans-serif", size: 14.5 }, callback: v => String(v) }
        },
        y: {
          min: p.min, max: p.max,
          afterBuildTicks: s => { s.ticks = p.ticks.map(v => ({ value: v })); },
          afterFit: s => { s.width = axisW; s.paddingTop = 0; s.paddingBottom = 0; },
          grid: { drawOnChartArea: false, drawTicks: true, tickLength: 4, color: '#666' },
          border: { color: '#555' },
          ticks: { autoSkip: false, padding: 2, color: '#222', font: { family: narrow, size: 10.5 }, callback: v => String(v) }
        }
      }
    },
    plugins: [refLine]
  });
});
</script>
</body>
</html>
